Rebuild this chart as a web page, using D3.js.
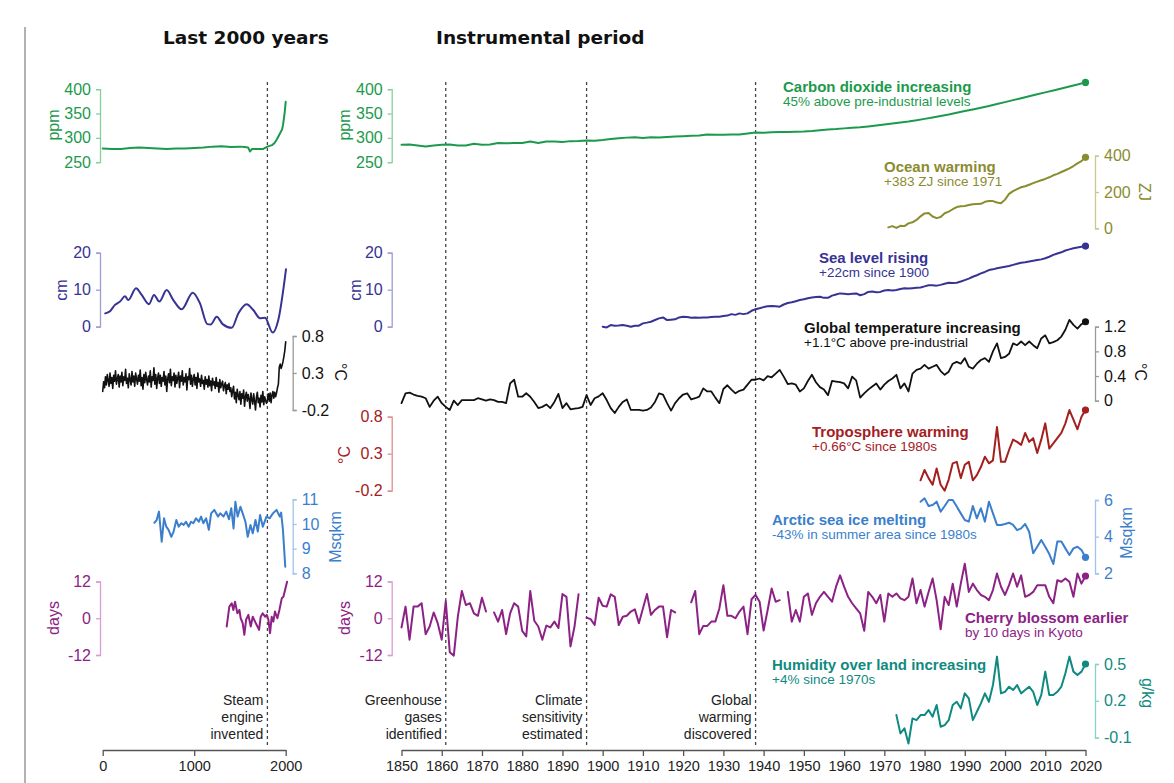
<!DOCTYPE html>
<html>
<head>
<meta charset="utf-8">
<script src="https://cdn.jsdelivr.net/npm/d3@7"></script>
<style>
  body { margin: 0; background: #fff; }
  svg text { font-family: "Liberation Sans", Arial, sans-serif; }
</style>
</head>
<body>
<div id="chart"></div>
<script>
// ---------- data: last 2000 years ----------
var co2LeftYears = [0, 100, 200, 300, 400, 500, 600, 700, 800, 900, 1000, 1100, 1200, 1300, 1400, 1500, 1550, 1590, 1610, 1630, 1700, 1750, 1800, 1850, 1880, 1900, 1920, 1940, 1960, 1970, 1980, 1990, 2000];
var co2LeftVals = [278, 277, 277, 279, 280, 279, 278, 277, 278, 278, 279, 280, 282, 283, 281, 282, 281, 280, 272, 277, 277, 277, 282, 285, 290, 296, 303, 310, 317, 326, 339, 354, 374];

var seaLeftYears = [28, 80, 134, 189, 244, 280, 364, 426, 506, 561, 619, 699, 772, 863, 984, 1063, 1143, 1180, 1246, 1311, 1410, 1482, 1574, 1646, 1719, 1774, 1858, 1919, 2003];
var seaLeftVals = [3.6, 4.2, 5.9, 6.8, 8.2, 7.2, 10.4, 8.6, 6.1, 8.6, 6.8, 9.9, 7.2, 4.7, 9.2, 6.3, 0.7, 0.6, 2.7, 0.7, -0.3, 3.6, 6.1, 4.5, 2.3, 2.4, -1.6, 1.8, 15.5];

// one value every 10 years, year 0 to 2000
var tempLeftStart = 0, tempLeftStep = 10;
var tempLeftVals = [
  0.05, 0.18, 0.10, 0.25, 0.14, 0.28, 0.20, 0.12, 0.30, 0.16,
  0.24, 0.09, 0.27, 0.19, 0.33, 0.15, 0.22, 0.28, 0.11, 0.26,
  0.18, 0.31, 0.13, 0.25, 0.20, 0.35, 0.16, 0.23, 0.10, 0.29,
  0.21, 0.14, 0.32, 0.18, 0.26, 0.12, 0.30, 0.22, 0.15, 0.27,
  0.19, 0.34, 0.13, 0.24, 0.08, 0.28, 0.17, 0.31, 0.21, 0.14,
  0.26, 0.18, 0.33, 0.11, 0.25, 0.20, 0.37, 0.15, 0.28, 0.09,
  0.23, 0.30, 0.16, 0.27, 0.12, 0.24, 0.19, 0.32, 0.14, 0.26,
  0.05, 0.22, 0.29, 0.17, 0.35, 0.13, 0.25, 0.20, 0.30, 0.11,
  0.27, 0.16, 0.23, 0.31, 0.10, 0.26, 0.19, 0.33, 0.14, 0.24,
  0.18, 0.29, 0.07, 0.25, 0.21, 0.36, 0.15, 0.27, 0.12, 0.22,
  0.28, 0.14, 0.24, 0.09, 0.30, 0.18, 0.22, 0.12, 0.27, 0.16,
  0.20, 0.08, 0.25, 0.15, 0.21, 0.11, 0.26, 0.13, 0.19, 0.06,
  0.23, 0.14, 0.18, 0.09, 0.24, 0.12, 0.17, 0.04, 0.21, 0.10,
  0.15, 0.19, 0.06, 0.13, 0.17, 0.02, 0.14, 0.08, 0.16, 0.05,
  0.10, -0.02, 0.06, 0.12, -0.05, 0.04, -0.10, 0.08, 0.00, -0.06,
  0.05, -0.12, 0.02, -0.04, 0.07, -0.15, -0.02, 0.04, -0.08, 0.01,
  -0.05, -0.18, 0.03, -0.06, -0.12, 0.02, -0.08, -0.20, -0.03, 0.04,
  -0.10, -0.04, -0.16, 0.00, -0.09, 0.05, -0.13, -0.02, -0.07, -0.11,
  -0.06, 0.02, -0.08, 0.03, -0.10, 0.00, 0.05, -0.04, 0.04, -0.02,
  0.03, 0.10, 0.15, 0.38, 0.42, 0.36, 0.40, 0.45, 0.52, 0.60, 0.72
];

var iceLeftYears = [565, 590, 615, 645, 670, 695, 720, 750, 775, 805, 830, 860, 885, 910, 940, 965, 990, 1020, 1050, 1075, 1100, 1130, 1160, 1185, 1220, 1260, 1285, 1320, 1350, 1380, 1405, 1430, 1450, 1475, 1505, 1530, 1560, 1585, 1615, 1640, 1670, 1695, 1720, 1750, 1790, 1825, 1860, 1900, 1935, 1950, 1970, 1995];
var iceLeftVals = [10.05, 10.16, 10.50, 9.28, 10.23, 9.89, 9.76, 9.48, 9.69, 10.16, 9.89, 10.03, 9.96, 10.09, 9.89, 10.09, 10.03, 10.23, 10.09, 10.30, 10.03, 10.23, 9.76, 10.43, 10.57, 10.30, 10.43, 10.30, 10.50, 10.19, 10.64, 9.82, 10.90, 10.30, 10.70, 10.43, 10.09, 9.48, 9.96, 9.62, 10.16, 9.69, 10.36, 9.89, 10.30, 10.23, 10.43, 10.57, 10.30, 10.46, 9.76, 8.27];

var cherryLeftYears = [1355, 1384, 1410, 1428, 1446, 1472, 1494, 1508, 1530, 1548, 1567, 1592, 1618, 1640, 1665, 1683, 1709, 1727, 1749, 1775, 1793, 1811, 1829, 1847, 1865, 1883, 1909, 1931, 1957, 1975, 1993, 2015];
var cherryLeftVals = [-2.7, 3.8, 4.9, 2.7, 5.4, 1.6, 2.7, 0, -1.6, -5.4, -0.5, 1.1, -2.7, 0.5, -1.1, -2.2, -3.8, 0.5, 1.6, 0.5, 1.1, -0.5, -4.9, 0.5, -1.1, 2.2, 0, 2.7, 6.5, 7.0, 9.2, 11.9];

// ---------- data: instrumental period ----------
var co2RightYears = [1850, 1852, 1854, 1856, 1858, 1860, 1862, 1864, 1866, 1868, 1870, 1872, 1874, 1876, 1878, 1880, 1882, 1884, 1886, 1888, 1890, 1892, 1894, 1896, 1898, 1900, 1902, 1904, 1906, 1908, 1910, 1912, 1914, 1916, 1918, 1920, 1922, 1924, 1926, 1928, 1930, 1932, 1934, 1936, 1938, 1940, 1942, 1944, 1946, 1948, 1950, 1952, 1954, 1956, 1958, 1960, 1962, 1964, 1966, 1968, 1970, 1972, 1974, 1976, 1978, 1980, 1982, 1984, 1986, 1988, 1990, 1992, 1994, 1996, 1998, 2000, 2002, 2004, 2006, 2008, 2010, 2012, 2014, 2016, 2018, 2020];
var co2RightVals = [285.8, 286.4, 284.4, 282.3, 284.4, 285.8, 286.4, 284.4, 284.4, 287.9, 285.8, 286.4, 289.5, 289, 289.2, 289.5, 292.6, 289.5, 292.6, 292.5, 291.5, 293.3, 293.8, 294.7, 294.2, 295.5, 297.5, 299.4, 300.5, 301.5, 299.8, 301.3, 300.6, 302, 302.6, 303.3, 304.3, 304.8, 306.7, 306.2, 306.4, 306.8, 307, 309, 311.2, 310.5, 311.5, 312, 312.2, 312.5, 313, 314, 315.5, 317, 318, 319.5, 320.8, 322, 323.6, 325.5, 327.5, 329.5, 331.5, 333.5, 336, 339, 342, 345, 348, 351.5, 355, 358.5, 362, 365.5, 369.5, 373.5, 377.5, 381.5, 385.5, 389.5, 393.5, 397.5, 401.5, 405.5, 409.5, 414];

var oceanStart = 1971;
var oceanVals = [5, 12, 2, 14, 12, 27, 33, 46, 66, 82, 84, 65, 56, 62, 83, 92, 105, 117, 121, 123, 128, 132, 134, 135, 146, 150, 150, 142, 138, 158, 190, 205, 216, 226, 232, 240, 249, 257, 265, 272, 281, 292, 300, 310, 320, 330, 343, 358, 370, 391];

var seaRightStart = 1900;
var seaRightVals = [
  0, -0.2, 0.45, 0.27, 0.3, 0.45, 0.27, 0.0, 0.27, 0.27,
  0.9, 1.1, 1.35, 1.8, 2.25, 2.5, 1.8, 1.9, 2.0, 2.5,
  2.7, 2.6, 2.4, 2.5, 2.4, 2.5, 2.5, 2.6, 2.7, 2.7,
  2.9, 3.0, 3.4, 3.2, 3.6, 3.4, 3.6, 4.3, 4.7, 5.0,
  5.3, 5.5, 5.6, 5.5, 5.4, 6.0, 6.4, 6.6, 6.9, 7.2,
  7.4, 7.7, 7.9, 8.0, 8.1, 7.8, 7.8, 8.4, 8.7, 9.0,
  8.9, 8.8, 8.9, 9.0, 8.5, 8.8, 9.4, 9.5, 9.3, 9.4,
  9.8, 9.9, 9.8, 9.9, 10.2, 10.4, 10.3, 10.4, 10.5, 10.6,
  10.9, 11.2, 11.2, 11.1, 11.3, 11.6, 11.9, 11.8, 11.9, 12.2,
  12.6, 13.0, 13.5, 13.9, 14.4, 14.8, 15.3, 15.5, 15.8, 16.0,
  16.2, 16.4, 16.7, 17.0, 17.3, 17.4, 17.6, 17.8, 18.0, 18.2,
  18.5, 18.9, 19.4, 19.8, 20.1, 20.6, 20.9, 21.2, 21.4, 21.6,
  21.8
];

var tempRightStart = 1850;
var tempRightVals = [
  -0.04, 0.12, 0.13, 0.10, 0.08, 0.065, 0.04, -0.10, 0.0, 0.065,
  -0.04, -0.10, -0.15, 0.0, -0.07, 0.01, 0.01, 0.01, 0.01, 0.04,
  0.02, 0.0, 0.02, 0.01, -0.02, -0.02, -0.04, 0.28, 0.34, 0.065,
  0.065, 0.12, 0.065, -0.02, -0.12, -0.10, -0.06, -0.12, -0.02, 0.11,
  -0.12, -0.04, -0.14, -0.13, -0.12, -0.10, 0.09, -0.07, 0.04, 0.07,
  0.12, 0.01, -0.12, -0.20, -0.10, -0.02, 0.02, -0.15, -0.15, -0.15,
  -0.16, -0.15, -0.11, -0.02, 0.12, 0.10, -0.04, -0.16, -0.04, 0.04,
  0.10, 0.12, 0.02, 0.04, 0.065, 0.20, 0.15, 0.15, 0.05, -0.04,
  0.19, 0.25, 0.18, 0.12, 0.16, 0.18, 0.26, 0.34, 0.34, 0.36,
  0.33, 0.40, 0.38, 0.44, 0.50, 0.39, 0.27, 0.28, 0.26, 0.15,
  0.20, 0.32, 0.42, 0.30, 0.22, 0.18, 0.09, 0.32, 0.31, 0.30,
  0.28, 0.20, 0.39, 0.33, 0.05, 0.12, 0.18, 0.23, 0.28, 0.18,
  0.26, 0.32, 0.36, 0.42, 0.20, 0.28, 0.15, 0.44, 0.50, 0.52,
  0.58, 0.52, 0.55, 0.58, 0.48, 0.42, 0.47, 0.60, 0.63, 0.60,
  0.69, 0.55, 0.52, 0.60, 0.66, 0.69, 0.63, 0.80, 0.93, 0.69,
  0.71, 0.76, 0.93, 0.90, 0.96, 0.90, 0.96, 0.90, 0.85, 1.01,
  1.06, 0.93, 0.95, 0.98, 1.04, 1.15, 1.31, 1.23, 1.17, 1.24,
  1.28
];

var tropoStart = 1979;
var tropoVals = [-0.06, 0.08, -0.03, -0.12, 0.10, -0.12, -0.20, -0.05, 0.17, 0.19, -0.03, 0.15, 0.19, -0.06, 0.01, 0.12, 0.26, 0.17, 0.21, 0.66, 0.19, 0.19, 0.35, 0.49, 0.46, 0.42, 0.58, 0.46, 0.51, 0.31, 0.49, 0.71, 0.37, 0.44, 0.51, 0.58, 0.71, 0.89, 0.76, 0.63, 0.80, 0.89];

var iceRightStart = 1979;
var iceRightVals = [5.91, 6.09, 5.67, 5.73, 5.91, 5.36, 5.67, 6.0, 6.0, 5.64, 5.27, 4.91, 4.82, 5.67, 5.0, 5.55, 4.82, 5.91, 5.27, 4.64, 4.64, 4.69, 4.76, 4.64, 4.36, 4.45, 4.69, 4.27, 3.09, 3.45, 3.82, 3.45, 3.05, 2.51, 3.73, 3.73, 3.36, 3.0, 3.36, 3.45, 3.27, 2.87];

var cherryRightStart = 1850;
var cherryRightVals = [
  -3.0, 3.8, -7.0, 3.8, 3.8, 4.9, -5.2, -2.7, 1.9, -1.6,
  -7.0, 5.6, -11.1, -12.2, 0.5, 8.9, 4.3, 4.9, 1.6, 0.8,
  6.7, 2.2, null, 1.9, -1.1, 2.7, -5.2, 1.6, 4.9, 3.8,
  -4.1, -5.9, 8.9, -0.8, -2.7, -7.0, -2.4, -3.0, -1.1, -3.2,
  7.9, 7.0, -9.2, -2.7, 7.8, null, 0.2, -0.3, -2.2, 6.7,
  4.1, 3.8, 7.8, 7.0, -2.2, 0.5, 0.8, 2.2, 2.9, -1.6,
  3.2, 7.9, 1.1, 2.7, 3.8, 3.8, -6.2, 2.7, 1.9, null,
  null, null, 5.2, 8.9, -5.2, -2.5, -2.5, -1.1, -1.1, 3.2,
  10.8, 0.8, 0.8, 0, 2.2, 3.8, -5.2, 6.2, 7.6, 5.4,
  -4.0, 2.7, 9.7, 5.4, 5.9, null, 8.6, -1.1, 2.7, -1.1,
  7.0, 8.1, 1.1, 4.9, 7.0, 8.6, 7.0, 5.4, 10.3, 14.0,
  10.3, 7.0, 4.9, 3.2, 1.6, -4.1, 8.6, 7.0, 4.9, 7.6,
  -1.1, 8.1, 7.0, 8.1, 6.5, 5.9, 7.0, 13.0, 4.9, 9.2,
  3.8, 8.6, 13.0, 5.9, -3.6, 7.0, 4.3, 11.3, 3.8, 11.3,
  17.8, 8.6, 11.3, 9.2, 7.6, 7.0, 5.9, 9.2, 14.6, 10.3,
  7.6, 10.8, 14.6, 10.3, 14.0, 7.0, 7.6, 8.6, 10.8, 10.8,
  10.8, 7.0, 4.9, 12.4, 11.9, 13.0, 11.9, 7.0, 14.6, 11.3,
  13.8
];

var humStart = 1973;
var humVals = [0.084, -0.065, -0.024, -0.147, 0.057, 0.043, 0.084, 0.084, 0.125, 0.071, 0.166, -0.011, 0.003, 0.043, 0.166, 0.193, 0.139, 0.261, 0.220, 0.043, 0.111, 0.179, 0.261, 0.193, 0.329, 0.560, 0.261, 0.274, 0.315, 0.288, 0.329, 0.261, 0.288, 0.315, 0.274, 0.166, 0.247, 0.438, 0.247, 0.247, 0.274, 0.315, 0.424, 0.560, 0.438, 0.410, 0.438, 0.5];

// ---------- ticks, events, labels ----------
var xTicksLeft = [0, 1000, 2000];
var xTicksRight = [1850, 1860, 1870, 1880, 1890, 1900, 1910, 1920, 1930, 1940, 1950, 1960, 1970, 1980, 1990, 2000, 2010, 2020];
var eventsLeft = [1800];
var eventsRight = [1861, 1896, 1938];
var eventLabelsLeft = [["Steam", "engine", "invented"]];
var eventLabelsRight = [["Greenhouse", "gases", "identified"], ["Climate", "sensitivity", "estimated"], ["Global", "warming", "discovered"]];
var titles = ["Last 2000 years", "Instrumental period"];
var seriesTitles = ["Carbon dioxide increasing", "Ocean warming", "Sea level rising", "Global temperature increasing", "Troposphere warming", "Arctic sea ice melting", "Cherry blossom earlier", "Humidity over land increasing"];
var seriesSubs = ["45% above pre-industrial levels", "+383 ZJ since 1971", "+22cm since 1900", "+1.1\u00B0C above pre-industrial", "+0.66\u00B0C since 1980s", "-43% in summer area since 1980s", "by 10 days in Kyoto", "+4% since 1970s"];

// ---------- colours ----------
var C = {
  co2: ["#1c9a4c", "#86d09c"],
  ocean: ["#8b8b30", "#c8c890"],
  sea: ["#363394", "#9d9bd8"],
  temp: ["#111111", "#9a9a9a"],
  tropo: ["#a3201f", "#e08c8c"],
  ice: ["#3b7fcc", "#9fc3ee"],
  cherry: ["#8d2285", "#dd9ad5"],
  hum: ["#0f8a80", "#86d2ca"]
};
var FONT = "Liberation Sans, Arial, sans-serif";

var svg = d3.select("#chart").append("svg")
  .attr("width", 1174)
  .attr("height", 783);

var xL = d3.scaleLinear().domain([0, 2000]).range([102.7, 285.7]);
var xR = d3.scaleLinear().domain([1850, 2020]).range([401.5, 1085.5]);

var yCo2 = d3.scaleLinear().domain([250, 400]).range([162.2, 89.2]);
var yOcean = d3.scaleLinear().domain([0, 400]).range([228.3, 155.7]);
var ySea = d3.scaleLinear().domain([0, 20]).range([326.7, 252.7]);
var yTempL = d3.scaleLinear().domain([-0.2, 0.8]).range([410, 336]);
var yTempR = d3.scaleLinear().domain([0, 1.2]).range([400.7, 326.7]);
var yTropo = d3.scaleLinear().domain([-0.2, 0.8]).range([490.7, 416.7]);
var yIceL = d3.scaleLinear().domain([8, 11]).range([573.3, 499.3]);
var yIceR = d3.scaleLinear().domain([2, 6]).range([573.3, 500]);
var yCherry = d3.scaleLinear().domain([-12, 12]).range([655, 581.5]);
var yHum = d3.scaleLinear().domain([-0.1, 0.5]).range([737.7, 664]);

// separator and titles
svg.append("line").attr("x1", 25).attr("x2", 25).attr("y1", 27).attr("y2", 783)
  .attr("stroke", "#999").attr("stroke-width", 1.5);
svg.append("text").attr("x", 163).attr("y", 44).text(titles[0])
  .style("font-family", "DejaVu Sans").style("font-weight", "bold").style("font-size", "18.5px").attr("fill", "#111");
svg.append("text").attr("x", 436).attr("y", 44).text(titles[1])
  .style("font-family", "DejaVu Sans").style("font-weight", "bold").style("font-size", "18.5px").attr("fill", "#111");

// dashed event lines
function eventLine(x, lines) {
  svg.append("line").attr("x1", x).attr("x2", x).attr("y1", 82).attr("y2", 747)
    .attr("stroke", "#444").attr("stroke-width", 1.3).attr("stroke-dasharray", "3,3");
  lines.forEach(function (t, j) {
    svg.append("text").attr("x", x - 4).attr("y", 705 + j * 17).attr("text-anchor", "end")
      .style("font-size", "14px").attr("fill", "#222").text(t);
  });
}
eventsLeft.forEach(function (yr, i) { eventLine(xL(yr), eventLabelsLeft[i]); });
eventsRight.forEach(function (yr, i) { eventLine(xR(yr), eventLabelsRight[i]); });

// y axis helper
function yAxis(scale, x, side, ticks, col, unit, ux, uy, rot) {
  var ax = (side === "left" ? d3.axisLeft(scale) : d3.axisRight(scale))
    .tickValues(ticks).tickSize(4).tickPadding(5)
    .tickFormat(function (d) { return String(d); });
  var g = svg.append("g").attr("transform", "translate(" + x + ",0)").call(ax);
  g.attr("font-family", FONT);
  g.select(".domain").attr("stroke", col[1]).attr("stroke-width", 1.3);
  g.selectAll(".tick line").attr("stroke", col[1]).attr("stroke-width", 1.3);
  g.selectAll(".tick text").attr("fill", col[0]).style("font-size", "16px");
  svg.append("text")
    .attr("transform", "translate(" + ux + "," + uy + ") rotate(" + rot + ")")
    .attr("text-anchor", "middle").attr("dy", "0.35em")
    .style("font-size", "16px").attr("fill", col[0]).text(unit);
}

yAxis(yCo2, 100, "left", [250, 300, 350, 400], C.co2, "ppm", 53, 125, -90);
yAxis(yCo2, 391.7, "left", [250, 300, 350, 400], C.co2, "ppm", 344, 125, -90);
yAxis(yOcean, 1095, "right", [0, 200, 400], C.ocean, "ZJ", 1145, 192, 90);
yAxis(ySea, 100, "left", [0, 10, 20], C.sea, "cm", 61, 290, -90);
yAxis(ySea, 391.7, "left", [0, 10, 20], C.sea, "cm", 355, 290, -90);
yAxis(yTempL, 292.7, "right", [-0.2, 0.3, 0.8], C.temp, "\u00B0C", 341, 372, 90);
yAxis(yTempR, 1095, "right", [0, 0.4, 0.8, 1.2], C.temp, "\u00B0C", 1141, 372, 90);
yAxis(yTropo, 391.7, "left", [-0.2, 0.3, 0.8], C.tropo, "\u00B0C", 344, 455, -90);
yAxis(yIceL, 292.7, "right", [8, 9, 10, 11], C.ice, "Msqkm", 335, 537, -90);
yAxis(yIceR, 1095, "right", [2, 4, 6], C.ice, "Msqkm", 1126, 533, -90);
yAxis(yCherry, 100, "left", [-12, 0, 12], C.cherry, "days", 53, 618, -90);
yAxis(yCherry, 391.7, "left", [-12, 0, 12], C.cherry, "days", 344, 618, -90);
yAxis(yHum, 1095, "right", [-0.1, 0.2, 0.5], C.hum, "g/kg", 1148, 693, 90);

// x axes
function xAxis(scale, ticks) {
  var g = svg.append("g").attr("transform", "translate(0,750)")
    .call(d3.axisBottom(scale).tickValues(ticks).tickSize(6).tickSizeOuter(0).tickPadding(5)
      .tickFormat(function (d) { return String(d); }));
  g.attr("font-family", FONT);
  g.select(".domain").attr("stroke", "#555").attr("stroke-width", 1.3);
  g.selectAll(".tick line").attr("stroke", "#555").attr("stroke-width", 1.3);
  g.selectAll(".tick text").attr("fill", "#222").style("font-size", "14.5px");
}
xAxis(xL, xTicksLeft);
xAxis(xR, xTicksRight);

// line helpers
function pairs(years, vals) {
  return vals.map(function (v, i) { return { yr: years[i], v: v }; });
}
function stepped(start, step, vals) {
  return vals.map(function (v, i) { return { yr: start + i * step, v: v }; });
}
function drawLine(data, x, y, color, w, curve, dot) {
  var line = d3.line()
    .defined(function (d) { return d.v !== null; })
    .x(function (d) { return x(d.yr); })
    .y(function (d) { return y(d.v); })
    .curve(curve || d3.curveLinear);
  svg.append("path").datum(data).attr("d", line)
    .attr("fill", "none").attr("stroke", color).attr("stroke-width", w)
    .attr("stroke-linejoin", "round").attr("stroke-linecap", "round");
  if (dot) {
    var last = data[data.length - 1];
    svg.append("circle").attr("cx", x(last.yr)).attr("cy", y(last.v)).attr("r", 3.6).attr("fill", color);
  }
}

// left panel
drawLine(pairs(co2LeftYears, co2LeftVals), xL, yCo2, C.co2[0], 2);
drawLine(pairs(seaLeftYears, seaLeftVals), xL, ySea, C.sea[0], 2, d3.curveMonotoneX);
drawLine(stepped(tempLeftStart, tempLeftStep, tempLeftVals), xL, yTempL, C.temp[0], 1.6);
drawLine(pairs(iceLeftYears, iceLeftVals), xL, yIceL, C.ice[0], 2);
drawLine(pairs(cherryLeftYears, cherryLeftVals), xL, yCherry, C.cherry[0], 2);

// right panel
drawLine(pairs(co2RightYears, co2RightVals), xR, yCo2, C.co2[0], 2, null, true);
drawLine(stepped(oceanStart, 1, oceanVals), xR, yOcean, C.ocean[0], 2, null, true);
drawLine(stepped(seaRightStart, 1, seaRightVals), xR, ySea, C.sea[0], 2, null, true);
drawLine(stepped(tempRightStart, 1, tempRightVals), xR, yTempR, C.temp[0], 1.8, null, true);
drawLine(stepped(tropoStart, 1, tropoVals), xR, yTropo, C.tropo[0], 2, null, true);
drawLine(stepped(iceRightStart, 1, iceRightVals), xR, yIceR, C.ice[0], 2, null, true);
drawLine(stepped(cherryRightStart, 1, cherryRightVals), xR, yCherry, C.cherry[0], 2, null, true);
drawLine(stepped(humStart, 1, humVals), xR, yHum, C.hum[0], 2, null, true);

// series annotations
var annPos = [[783, 92, C.co2], [884, 172, C.ocean], [819, 263, C.sea], [804, 333, C.temp], [812, 437, C.tropo], [772, 525, C.ice], [965, 623, C.cherry], [772, 670, C.hum]];
annPos.forEach(function (p, i) {
  var col = p[2][0];
  svg.append("text").attr("x", p[0]).attr("y", p[1]).text(seriesTitles[i])
    .style("font-size", "15px").style("font-weight", "bold").attr("fill", col);
  svg.append("text").attr("x", p[0]).attr("y", p[1] + 14).text(seriesSubs[i])
    .style("font-size", "13.5px").attr("fill", col);
});
</script>
</body>
</html>
